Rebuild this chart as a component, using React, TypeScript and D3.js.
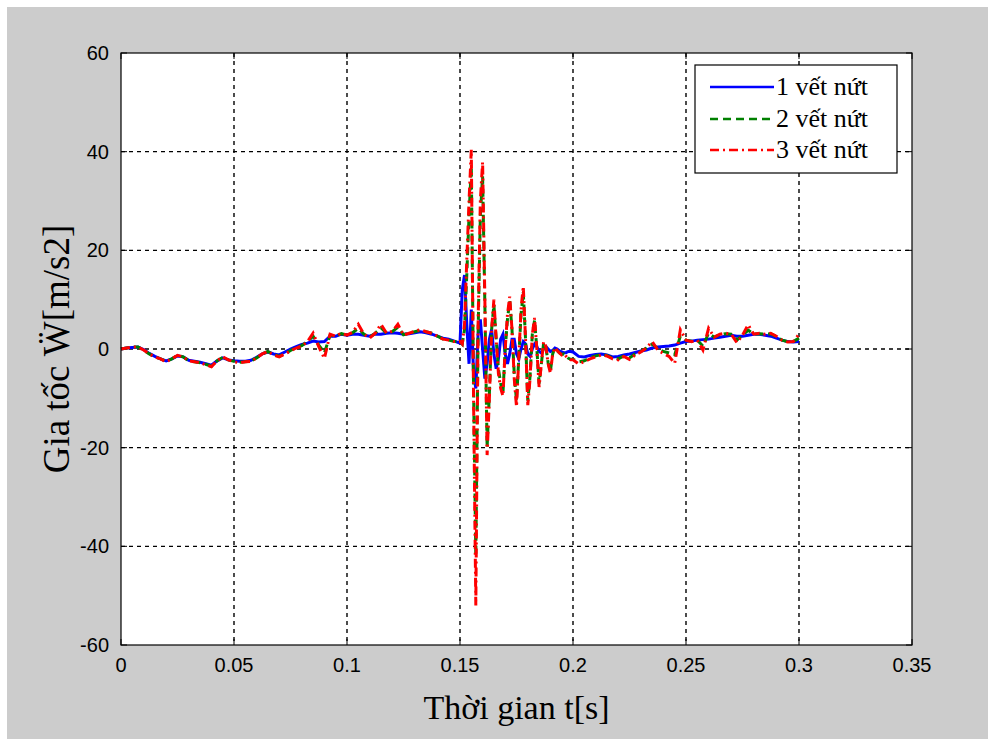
import React from "react";
import * as d3 from "d3";

// ---------- data ----------
const xTicks = [0, 0.05, 0.1, 0.15, 0.2, 0.25, 0.3, 0.35];
const xTickLabels = ["0", "0.05", "0.1", "0.15", "0.2", "0.25", "0.3", "0.35"];
const yTicks = [-60, -40, -20, 0, 20, 40, 60];
const yTickLabels = ["-60", "-40", "-20", "0", "20", "40", "60"];
const seriesNames = ["1 vết nứt", "2 vết nứt", "3 vết nứt"];

// sampling grid: 0..0.15 step 0.0025, 0.151..0.2 step 0.001, 0.2025..0.3 step 0.0025
const timeQuiet = d3.range(0, 61).map((i) => i * 0.0025);
const timeBurst = d3.range(1, 51).map((i) => 0.15 + i * 0.001);
const timeTail = d3.range(1, 41).map((i) => 0.2 + i * 0.0025);
const times = timeQuiet.concat(timeBurst, timeTail);

const crack1Quiet = [0, 0.2, 0.3, 0.4, -0.1, -0.9, -1.5, -2.0, -2.4, -2.0, -1.4, -1.6, -2.3, -2.5, -2.7, -3.0, -3.3, -2.4, -1.8, -2.2, -2.4, -2.5, -2.5, -2.3, -1.7, -1.0, -0.6, -1.0, -1.2, -0.6, 0.0, 0.5, 0.9, 1.2, 1.6, 1.4, 1.5, 2.6, 2.6, 3.0, 2.8, 3.0, 3.0, 2.8, 2.6, 3.0, 3.0, 3.2, 3.3, 3.2, 3.0, 3.1, 3.3, 3.5, 3.3, 3.0, 2.6, 2.2, 2.0, 1.6, 1.2];
const crack1Burst = [12, 15, 5, -3, 8, -5, -8, 3, 6, 0, -6, -3, 2, 4, -1, -4, -2, 2, 3, -1, -3, -1, 2, 2, -1, -2, 0, 1.5, 1, -1, -1.5, 0, 1, 0.5, -0.5, -0.8, 0.2, 0.5, 0, -0.5, -0.3, 0.2, 0, -0.4, -0.6, -0.8, -0.7, -0.5, -0.5, -0.6];
const crack1Tail = [-1.5, -1.6, -1.3, -1.1, -1.0, -1.2, -1.6, -1.5, -1.2, -1.0, -0.7, -0.4, -0.2, 0.2, 0.4, 0.5, 0.6, 0.8, 1.2, 1.5, 1.6, 1.8, 1.9, 2.0, 2.2, 2.4, 2.6, 2.8, 2.6, 2.6, 2.8, 3.0, 3.0, 2.8, 2.6, 2.2, 1.8, 1.5, 1.4, 1.5];

const crack2Quiet = [0, 0.2, 0.4, 0.4, -0.2, -1.0, -1.6, -2.0, -2.5, -2.0, -1.3, -1.6, -2.4, -2.6, -2.8, -3.1, -3.5, -2.4, -1.7, -2.2, -2.5, -2.7, -2.6, -2.4, -1.8, -1.0, -0.5, -1.1, -1.5, -1.0, -0.3, 0.3, 0.7, 1.5, 2.6, 0.8, -0.8, 2.8, 2.6, 3.1, 2.8, 3.3, 4.2, 3.0, 2.4, 3.2, 4.3, 3.2, 3.5, 4.4, 2.9, 3.2, 3.5, 3.8, 3.5, 3.2, 2.6, 2.0, 1.8, 1.5, 1.5];
const crack2Burst = [1.0, 4, 15, 27, 37, -8, -42, 3, 27, 35, 9, -20, -9, 4, 9, 2, -4, -7, -9, 0, 6, 9.8, 4, -5, -10.5, -2, 7, 11.5, 2, -10.5, -5.5, 3, 5.8, 0, -7, -3, 1.2, 0.4, -2.8, -4.5, -1, 0.2, -0.3, -0.8, -1.1, -1.0, -1.4, -1.9, -2.1, -2.1];
const crack2Tail = [-2.6, -2.4, -1.8, -1.4, -1.1, -1.3, -1.8, -2.0, -1.4, -1.8, -1.0, -0.5, 0.2, 1.0, 0.1, -0.5, -0.8, -1.2, 2.6, 1.8, 1.6, 1.8, 0.6, 3.2, 2.4, 2.9, 3.1, 3.0, 1.8, 2.8, 3.8, 3.0, 3.1, 3.0, 3.1, 2.5, 1.8, 1.5, 1.5, 2.2];

const crack3Quiet = [0, 0.2, 0.4, 0.4, -0.2, -1.0, -1.6, -2.0, -2.6, -2.0, -1.3, -1.6, -2.4, -2.6, -2.8, -3.2, -3.6, -2.4, -1.6, -2.2, -2.6, -2.8, -2.6, -2.5, -1.8, -1.0, -0.5, -1.2, -1.6, -1.0, -0.4, 0.2, 0.6, 1.5, 3.2, 0.5, -1.9, 3.0, 2.6, 3.2, 2.8, 3.4, 5.0, 3.0, 2.2, 3.2, 5.0, 3.2, 3.6, 5.0, 2.8, 3.2, 3.6, 3.9, 3.5, 3.2, 2.6, 2.0, 1.8, 1.5, 1.5];
const crack3Burst = [1.0, 5, 18, 30, 40.4, -10, -52, 5, 30, 37.9, 10, -21.5, -10, 4, 10, 2, -5, -8, -9.5, 0, 7, 10.6, 4, -6, -11.7, -2, 8, 12.7, 2, -11.4, -6, 3, 6.3, 0, -7.7, -3, 1.5, 0.5, -3, -4.9, -1, 0.3, -0.3, -0.8, -1.2, -1.0, -1.5, -2.0, -2.2, -2.2];
const crack3Tail = [-3.0, -2.6, -2.0, -1.6, -1.2, -1.4, -2.0, -2.2, -1.5, -2.1, -1.2, -0.6, 0.2, 1.5, -0.2, -0.9, -1.5, -2.9, 3.9, 1.8, 1.5, 1.8, -0.2, 4.2, 2.4, 3.0, 3.2, 3.0, 1.3, 2.8, 4.9, 3.0, 3.2, 3.0, 3.2, 2.6, 1.8, 1.4, 1.5, 3.0];

const crack1 = crack1Quiet.concat(crack1Burst, crack1Tail);
const crack2 = crack2Quiet.concat(crack2Burst, crack2Tail);
const crack3 = crack3Quiet.concat(crack3Burst, crack3Tail);
const seriesValues = [crack1, crack2, crack3];

// ---------- styles ----------
const colors = ["#0000ff", "#008000", "#ff0000"];
const dashes = ["none", "8,5", "9,4,2,4"];

const W = 988;
const H = 739;
const M = { left: 121, right: 912, top: 53, bottom: 645 };

export default function App() {
  const x = d3.scaleLinear().domain([0, 0.35]).range([M.left, M.right]);
  const y = d3.scaleLinear().domain([-60, 60]).range([M.bottom, M.top]);

  const line = d3
    .line<number>()
    .x((_, i) => x(times[i]))
    .y((d) => y(d))
    .curve(d3.curveLinear);

  const sans = "'Liberation Sans', Arial, sans-serif";
  const serif = "'Liberation Serif', 'Times New Roman', serif";

  const legX = 695;
  const legY = 65;
  const legW = 202;
  const legH = 108;
  const rowY = [87, 119, 150];

  return (
    <svg
      width={W}
      height={H}
      style={{ position: "absolute", left: 0, top: 0, display: "block" }}
    >
      <rect x={0} y={0} width={W} height={H} fill="#ffffff" />
      <rect x={7} y={7} width={W - 7} height={H - 7} fill="#cccccc" />
      <rect
        x={M.left}
        y={M.top}
        width={M.right - M.left}
        height={M.bottom - M.top}
        fill="#ffffff"
      />
      {/* grid */}
      <g stroke="#000" strokeWidth={1.4} strokeDasharray="4,4">
        {xTicks.slice(1, -1).map((t) => (
          <line key={"gx" + t} x1={x(t)} x2={x(t)} y1={M.top} y2={M.bottom} />
        ))}
        {yTicks.slice(1, -1).map((t) => (
          <line key={"gy" + t} x1={M.left} x2={M.right} y1={y(t)} y2={y(t)} />
        ))}
      </g>
      {/* ticks */}
      <g stroke="#000" strokeWidth={1}>
        {xTicks.map((t) => (
          <g key={"tx" + t}>
            <line x1={x(t)} x2={x(t)} y1={M.bottom} y2={M.bottom - 6} />
            <line x1={x(t)} x2={x(t)} y1={M.top} y2={M.top + 6} />
          </g>
        ))}
        {yTicks.map((t) => (
          <g key={"ty" + t}>
            <line x1={M.left} x2={M.left + 6} y1={y(t)} y2={y(t)} />
            <line x1={M.right} x2={M.right - 6} y1={y(t)} y2={y(t)} />
          </g>
        ))}
      </g>
      {/* series */}
      <g fill="none" strokeWidth={3} strokeLinejoin="miter">
        {seriesValues.map((vals, k) => (
          <path
            key={"s" + k}
            d={line(vals) || ""}
            stroke={colors[k]}
            strokeDasharray={dashes[k]}
          />
        ))}
      </g>
      {/* box */}
      <rect
        x={M.left}
        y={M.top}
        width={M.right - M.left}
        height={M.bottom - M.top}
        fill="none"
        stroke="#000"
        strokeWidth={1.2}
      />
      {/* tick labels */}
      <g fontFamily={sans} fontSize={20} fill="#000">
        {xTicks.map((t, i) => (
          <text key={"lx" + t} x={x(t)} y={M.bottom + 27} textAnchor="middle">
            {xTickLabels[i]}
          </text>
        ))}
        {yTicks.map((t, i) => (
          <text key={"ly" + t} x={M.left - 12} y={y(t) + 7} textAnchor="end">
            {yTickLabels[i]}
          </text>
        ))}
      </g>
      {/* axis labels */}
      <text
        x={(M.left + M.right) / 2}
        y={719}
        textAnchor="middle"
        fontFamily={serif}
        fontSize={34}
        fill="#000"
      >
        Thời gian t[s]
      </text>
      <text
        transform={`translate(69, ${(M.top + M.bottom) / 2}) rotate(-90)`}
        textAnchor="middle"
        fontFamily={serif}
        fontSize={37}
        fill="#000"
      >
        Gia tốc Ẅ[m/s2]
      </text>
      {/* legend */}
      <rect
        x={legX}
        y={legY}
        width={legW}
        height={legH}
        fill="#ffffff"
        stroke="#000"
        strokeWidth={1.2}
      />
      {seriesNames.map((n, k) => (
        <g key={"lg" + k}>
          <line
            x1={710}
            x2={774}
            y1={rowY[k]}
            y2={rowY[k]}
            stroke={colors[k]}
            strokeWidth={2.5}
            strokeDasharray={dashes[k]}
          />
          <text
            x={776}
            y={rowY[k] + 8}
            fontFamily={serif}
            fontSize={26}
            fill="#000"
          >
            {n}
          </text>
        </g>
      ))}
    </svg>
  );
}
